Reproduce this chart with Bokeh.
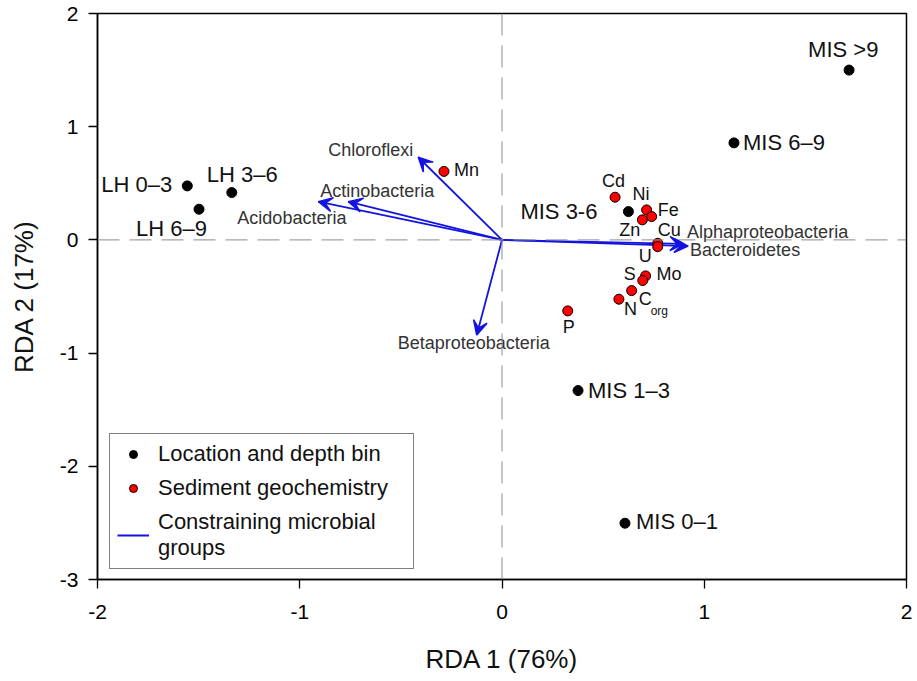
from bokeh.plotting import figure
from bokeh.models import (ColumnDataSource, Arrow, VeeHead, Span, Legend, LegendItem,
                          Range1d, FixedTicker)
from bokeh.core.properties import value
from bokeh.embed import file_html
from bokeh.resources import INLINE

# ---------------- data ----------------
site_names = ["MIS >9", "MIS 6\u20139", "MIS 3-6", "MIS 1\u20133", "MIS 0\u20131",
              "LH 0\u20133", "LH 3\u20136", "LH 6\u20139"]
site_x = [1.716, 1.147, 0.625, 0.376, 0.608, -1.556, -1.336, -1.498]
site_y = [1.500, 0.857, 0.250, -1.331, -2.503, 0.477, 0.418, 0.271]

geo_names = ["Cd", "Ni", "Fe", "Zn", "Cu", "U", "Mo", "S", "C", "N", "P", "Mn"]
geo_x = [0.559, 0.715, 0.740, 0.694, 0.770, 0.770, 0.710, 0.696, 0.641, 0.578, 0.325, -0.287]
geo_y = [0.377, 0.265, 0.206, 0.177, -0.030, -0.060, -0.318, -0.359, -0.448, -0.524, -0.627, 0.605]

microbe_names = ["Chloroflexi", "Actinobacteria", "Acidobacteria", "Betaproteobacteria",
                 "Alphaproteobacteria", "Bacteroidetes"]
microbe_x = [-0.414, -0.760, -0.908, -0.125, 0.900, 0.920]
microbe_y = [0.730, 0.338, 0.338, -0.840, -0.035, -0.055]

x_ticks = [-2, -1, 0, 1, 2]
y_ticks = [-3, -2, -1, 0, 1, 2]
x_tick_labels = ["-2", "-1", "0", "1", "2"]
y_tick_labels = ["-3", "-2", "-1", "0", "1", "2"]

# ---------------- label placement (screen px offsets) ----------------
site_dx = [-41, 9, -108, 10, 11, -86, -25, -63]
site_dy = [-21, 0, 0, 0, -2, -1, -18, 19]
geo_dx = [-13, -14, 6, -23, 0, -19, 11, -19, 7, 5, -5, 10]
geo_dy = [-16, -16, -7, 10, -13, 9, -2, -7, 8, 10, 16, -1]
mic_dx = [-90, -28, -81, -79, 3, 2]
mic_dy = [-7, -11, 16, 8, -12, 4]

FONT = value("Liberation Sans")
BLUE = "#1414e0"

p = figure(frame_width=809, frame_height=566, output_backend="svg", toolbar_location=None,
           x_range=Range1d(-2, 2), y_range=Range1d(-3, 2),
           min_border_left=97, min_border_top=13, min_border_right=8, min_border_bottom=95)
p.background_fill_color = "white"
p.border_fill_color = "white"
p.outline_line_color = "black"
p.outline_line_width = 1.5
p.xgrid.visible = False
p.ygrid.visible = False

for ax, ticks, labels in ((p.xaxis, x_ticks, x_tick_labels), (p.yaxis, y_ticks, y_tick_labels)):
    ax.ticker = FixedTicker(ticks=ticks)
    ax.major_label_overrides = {t: l for t, l in zip(ticks, labels)}
    ax.minor_tick_line_color = None
    ax.major_tick_in = 0
    ax.major_tick_out = 9
    ax.major_tick_line_color = "black"
    ax.major_tick_line_width = 1.3
    ax.axis_line_color = "black"
    ax.axis_line_width = 1.5
    ax.major_label_text_font = "Liberation Sans"
    ax.major_label_text_font_size = "21px"
    ax.major_label_text_color = "black"
    ax.axis_label_text_font = "Liberation Sans"
    ax.axis_label_text_font_size = "26px"
    ax.axis_label_text_font_style = "normal"
    ax.axis_label_text_color = "#111111"

p.xaxis.axis_label = "RDA 1 (76%)"
p.yaxis.axis_label = "RDA 2 (17%)"
p.xaxis.major_label_standoff = 16
p.xaxis.axis_label_standoff = 22
p.yaxis.major_label_standoff = 10
p.yaxis.axis_label_standoff = 18

# zero lines
p.add_layout(Span(location=0, dimension="height", line_color="#8a8a8a", line_width=1,
                  line_dash="22 10"))
p.add_layout(Span(location=0, dimension="width", line_color="#8a8a8a", line_width=1,
                  line_dash="22 10"))

# arrows
msrc = ColumnDataSource(dict(x0=[0] * len(microbe_x), y0=[0] * len(microbe_y),
                             x=microbe_x, y=microbe_y, name=microbe_names,
                             dx=mic_dx, dy=mic_dy))
seg = p.segment(x0="x0", y0="y0", x1="x", y1="y", source=msrc, line_color=BLUE, line_width=1.8)
p.add_layout(Arrow(x_start="x0", y_start="y0", x_end="x", y_end="y", source=msrc,
                   line_alpha=0,
                   end=VeeHead(size=14, fill_color=BLUE, line_color=BLUE, line_width=1.5)))
p.text(x="x", y="y", text="name", source=msrc, x_offset="dx", y_offset="dy",
       text_font=FONT, text_font_size="18px", text_color="#333333",
       text_align="left", text_baseline="middle")

# sites
ssrc = ColumnDataSource(dict(x=site_x, y=site_y, name=site_names, dx=site_dx, dy=site_dy))
blk = p.scatter(x="x", y="y", source=ssrc, size=10, fill_color="black", line_color="black")
p.text(x="x", y="y", text="name", source=ssrc, x_offset="dx", y_offset="dy",
       text_font=FONT, text_font_size="22px", text_color="#111111",
       text_align="left", text_baseline="middle")

# geochemistry
gsrc = ColumnDataSource(dict(x=geo_x, y=geo_y, name=geo_names, dx=geo_dx, dy=geo_dy))
red = p.scatter(x="x", y="y", source=gsrc, size=10, fill_color="#ff0000", line_color="black",
                line_width=1)
p.text(x="x", y="y", text="name", source=gsrc, x_offset="dx", y_offset="dy",
       text_font=FONT, text_font_size="18px", text_color="#111111",
       text_align="left", text_baseline="middle")
ci = geo_names.index("C")
sub = ColumnDataSource(dict(x=[geo_x[ci]], y=[geo_y[ci]], t=["org"]))
p.text(x="x", y="y", text="t", source=sub, x_offset=19, y_offset=20,
       text_font=FONT, text_font_size="12px", text_color="#111111",
       text_align="left", text_baseline="middle")

legend = Legend(items=[
    LegendItem(label="Location and depth bin", renderers=[blk]),
    LegendItem(label="Sediment geochemistry", renderers=[red]),
    LegendItem(label="Constraining microbial\ngroups", renderers=[seg]),
], location=(12, 10))
legend.margin = 0
legend.padding = 7
legend.spacing = 8
legend.glyph_width = 32
legend.glyph_height = 20
legend.label_height = 20
legend.label_standoff = 9
legend.label_width = 248
legend.label_text_font = "Liberation Sans"
legend.label_text_font_size = "22px"
legend.label_text_color = "#111111"
legend.border_line_color = "black"
legend.border_line_width = 1.5
legend.background_fill_alpha = 1
p.add_layout(legend)

open("out.html", "w").write(file_html(p, INLINE))
